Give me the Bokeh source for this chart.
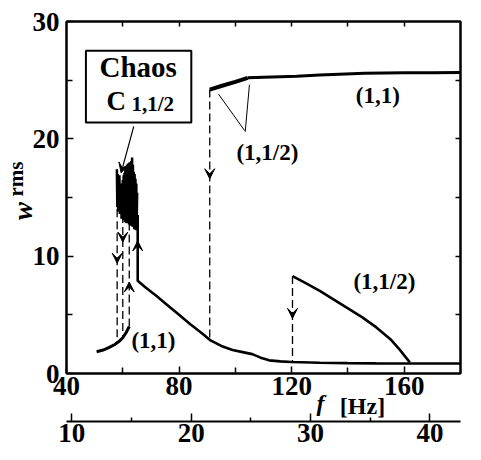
from bokeh.plotting import figure
from bokeh.models import (Range1d, LinearAxis, FixedTicker, Label, BoxAnnotation,
                          Arrow, VeeHead, ColumnDataSource, CustomJSTickFormatter)
from bokeh.embed import file_html
from bokeh.resources import INLINE

# ---------------- data ----------------
x_ticks = [40, 80, 120, 160]
x_minor = [60, 100, 140]
y_ticks = [0, 10, 20, 30]
y_minor = [5, 15, 25]
omega_ticks = [10, 20, 30, 40]
omega_minor = [15, 25, 35]

# lower (1,1) branch
low_f = [50.7, 53.0, 55.0, 57.0, 58.5, 60.0, 61.2, 62.3]
low_w = [1.85, 2.0, 2.2, 2.45, 2.7, 3.05, 3.5, 4.0]

# chaos C_{1,1/2}
chaos_f = [57.90, 58.05, 58.20, 58.35, 58.50, 58.65, 58.80, 58.95, 59.10, 59.25,
           59.40, 59.55, 59.70, 59.85, 60.00, 60.15, 60.30, 60.45, 60.60, 60.75,
           60.90, 61.05, 61.20, 61.35, 61.50, 61.65, 61.80, 61.95, 62.10, 62.25,
           62.40, 62.55, 62.70, 62.85, 63.00, 63.15, 63.30, 63.45, 63.60, 63.75,
           63.90, 64.05, 64.20, 64.35, 64.50, 64.65, 64.80, 64.95, 65.10]
chaos_w = [17.4, 14.2, 17.0, 13.8, 16.6, 14.5, 16.9, 13.6, 16.2, 14.0,
           15.8, 13.2, 16.0, 14.4, 16.5, 13.1, 16.9, 13.8, 17.1, 12.9,
           17.6, 13.5, 17.2, 12.8, 17.7, 13.6, 17.9, 13.0, 17.4, 12.7,
           18.0, 13.4, 17.6, 12.6, 18.1, 13.2, 18.4, 12.5, 17.8, 13.1,
           17.2, 12.3, 17.0, 12.8, 16.6, 12.2, 16.2, 13.0, 15.4]

# main decreasing (1,1) branch
main_f = [65.3, 65.3, 68, 72, 76, 80, 84, 88, 91, 95, 99, 103, 106, 109, 112,
          116, 120, 130, 140, 150, 160, 170, 180]
main_w = [13.5, 7.9, 7.35, 6.6, 5.8, 5.0, 4.2, 3.45, 2.85, 2.35, 2.0, 1.8, 1.65,
          1.35, 1.12, 1.03, 0.98, 0.92, 0.88, 0.86, 0.85, 0.85, 0.85]

# upper branch: (1,1/2) part then (1,1) part
upper_half_f = [90.9, 95, 100, 104.4]
upper_half_w = [24.2, 24.5, 24.85, 25.2]
upper_f = [104.4, 110, 121.8, 130, 146, 160, 170, 180]
upper_w = [25.2, 25.25, 25.34, 25.45, 25.6, 25.63, 25.64, 25.65]

# lower-right (1,1/2) branch
half_f = [120.3, 125, 130, 135, 140, 145, 150, 155, 158, 160, 162]
half_w = [8.3, 7.7, 7.05, 6.3, 5.55, 4.8, 3.95, 2.95, 2.15, 1.55, 0.95]

# dashed jumps
dash_f = [58.0, 60.0, 62.3, 90.9, 120.3]
dash_w0 = [14.0, 13.5, 4.0, 24.2, 8.3]
dash_w1 = [2.55, 3.05, 13.0, 2.85, 1.0]

# jump arrows
down_f = [58.0, 60.0, 90.9, 120.3]
down_w = [9.4, 11.2, 16.6, 4.7]
up_f = [62.3, 65.3]
up_w = [7.8, 11.3]

# pointer lines for the upper (1,1/2) label
ptr_f0 = [94.05, 105.0]
ptr_w0 = [23.8, 24.6]
ptr_f1 = [103.3, 103.5]
ptr_w1 = [20.7, 20.6]

FONT = "Liberation Serif"
NB = "\u00a0"

p = figure(width=465, height=444,
           x_range=Range1d(40, 180), y_range=Range1d(0, 30),
           output_backend="svg", toolbar_location=None,
           min_border_left=56, min_border_top=21, min_border_right=5,
           min_border_bottom=0, background_fill_color="white",
           border_fill_color="white")
p.grid.visible = False
p.outline_line_color = "black"
p.outline_line_width = 2

def style_axis(ax, labels=True):
    ax.axis_line_width = 2
    ax.axis_line_color = "black"
    ax.major_tick_in = 7
    ax.major_tick_out = 0
    ax.minor_tick_in = 6
    ax.minor_tick_out = 0
    ax.major_tick_line_width = 1.5
    ax.minor_tick_line_width = 1.5
    ax.major_label_text_font = FONT
    ax.major_label_text_font_style = "bold"
    ax.major_label_text_font_size = "27px"
    ax.major_label_text_color = "black"
    if not labels:
        ax.formatter = CustomJSTickFormatter(code="return ''")
        ax.major_label_text_font_size = "2px"
        ax.major_label_standoff = 0

def title_axis(text, style, size, standoff):
    ax = LinearAxis(ticker=FixedTicker(ticks=[], minor_ticks=[]))
    ax.axis_line_color = None
    ax.major_tick_line_color = None
    ax.minor_tick_line_color = None
    ax.formatter = CustomJSTickFormatter(code="return ''")
    ax.major_label_text_font_size = "2px"
    ax.major_label_standoff = 0
    ax.axis_label = text
    ax.axis_label_text_font = FONT
    ax.axis_label_text_font_style = style
    ax.axis_label_text_font_size = size
    ax.axis_label_text_color = "black"
    ax.axis_label_standoff = standoff
    return ax

# main x axis, its title "f" (italic) shifted right with no-break spaces
xa = p.xaxis[0]
xa.ticker = FixedTicker(ticks=x_ticks, minor_ticks=x_minor)
style_axis(xa)
xa.major_label_standoff = 3
xa.axis_label = NB * 19 + "f"
xa.axis_label_text_font = FONT
xa.axis_label_text_font_style = "bold italic"
xa.axis_label_text_font_size = "24px"
xa.axis_label_text_color = "black"
xa.axis_label_standoff = -8

# "[Hz]" part of the x title, on the same row as "f"
p.add_layout(title_axis(NB * 33 + "[Hz]", "bold", "24px", -26), "below")

# y axis, its title "w" (italic) moved down with no-break spaces
ya = p.yaxis[0]
ya.ticker = FixedTicker(ticks=y_ticks, minor_ticks=y_minor)
style_axis(ya)
ya.major_label_standoff = 7
ya.axis_label = "w" + NB * 4
ya.axis_label_text_font = FONT
ya.axis_label_text_font_style = "bold italic"
ya.axis_label_text_font_size = "27px"
ya.axis_label_text_color = "black"
ya.axis_label_standoff = -8

# "rms" subscript of the y title, drawn over the same margin
p.add_layout(title_axis(NB * 7 + "rms", "bold", "21px", -23), "left")

top = LinearAxis(ticker=FixedTicker(ticks=[60, 80, 100, 120, 140, 160], minor_ticks=[]))
style_axis(top, labels=False)
top.major_tick_in = 5
p.add_layout(top, "above")

right = LinearAxis(ticker=FixedTicker(ticks=[5, 10, 15, 20, 25], minor_ticks=[]))
style_axis(right, labels=False)
right.major_tick_in = 5
p.add_layout(right, "right")

# omega axis
p.extra_x_ranges = {"omega": Range1d(9.55, 42.56)}
om = LinearAxis(x_range_name="omega",
                ticker=FixedTicker(ticks=omega_ticks, minor_ticks=omega_minor))
style_axis(om)
om.major_tick_in = 8
om.minor_tick_in = 4
om.major_label_standoff = 2
p.add_layout(om, "below")

# ---------------- curves ----------------
p.line(low_f, low_w, line_color="black", line_width=3)
p.line(chaos_f, chaos_w, line_color="black", line_width=2.5)
p.line(main_f, main_w, line_color="black", line_width=2.6)
p.line(upper_half_f, upper_half_w, line_color="black", line_width=4)
p.line(upper_f, upper_w, line_color="black", line_width=3)
p.line(half_f, half_w, line_color="black", line_width=2.6)

p.segment(x0=dash_f, y0=dash_w0, x1=dash_f, y1=dash_w1,
          line_color="black", line_width=1.3, line_dash="8 4")
p.segment(x0=ptr_f0, y0=ptr_w0, x1=ptr_f1, y1=ptr_w1,
          line_color="black", line_width=1)

down_src = ColumnDataSource(dict(x=down_f, y0=[w + 0.6 for w in down_w], y1=down_w))
up_src = ColumnDataSource(dict(x=up_f, y0=[w - 0.6 for w in up_w], y1=up_w))
for src in (down_src, up_src):
    p.add_layout(Arrow(x_start="x", y_start="y0", x_end="x", y_end="y1", source=src,
                       line_alpha=0,
                       end=VeeHead(size=10, fill_color="black", line_color="black",
                                   line_width=1)))

# Chaos box and pointer
p.add_layout(BoxAnnotation(left=46.9, right=84.35, bottom=21.4, top=27.5,
                           fill_color="white", fill_alpha=1.0,
                           line_color="black", line_alpha=1.0, line_width=2))
p.add_layout(Arrow(x_start=63.9, y_start=21.06, x_end=59.4, y_end=17.1,
                   line_color="black", line_width=1.2,
                   end=VeeHead(size=10, fill_color="black", line_color="black",
                               line_width=1)))

def lab(x, y, text, size, style="bold", angle=0.0):
    p.add_layout(Label(x=x, y=y, text=text, text_font=FONT, text_font_style=style,
                       text_font_size=size, text_align="center",
                       text_baseline="middle", text_color="black", angle=angle))

lab(65.47, 26.1, "Chaos", "29px")
lab(57.7, 23.2, "C", "27px")
lab(70.66, 23.0, "1,1/2", "21px")
lab(70.9, 2.77, "(1,1)", "23px")
lab(150.6, 23.7, "(1,1)", "23px")
lab(111.4, 18.85, "(1,1/2)", "23px")
lab(152.96, 7.85, "(1,1/2)", "23px")
# omega symbol sits below the picture's lower edge, as in the original
lab(144.6, -7.6, "\u03c9", "26px", style="bold italic")

open("out.html", "w").write(file_html(p, INLINE))
